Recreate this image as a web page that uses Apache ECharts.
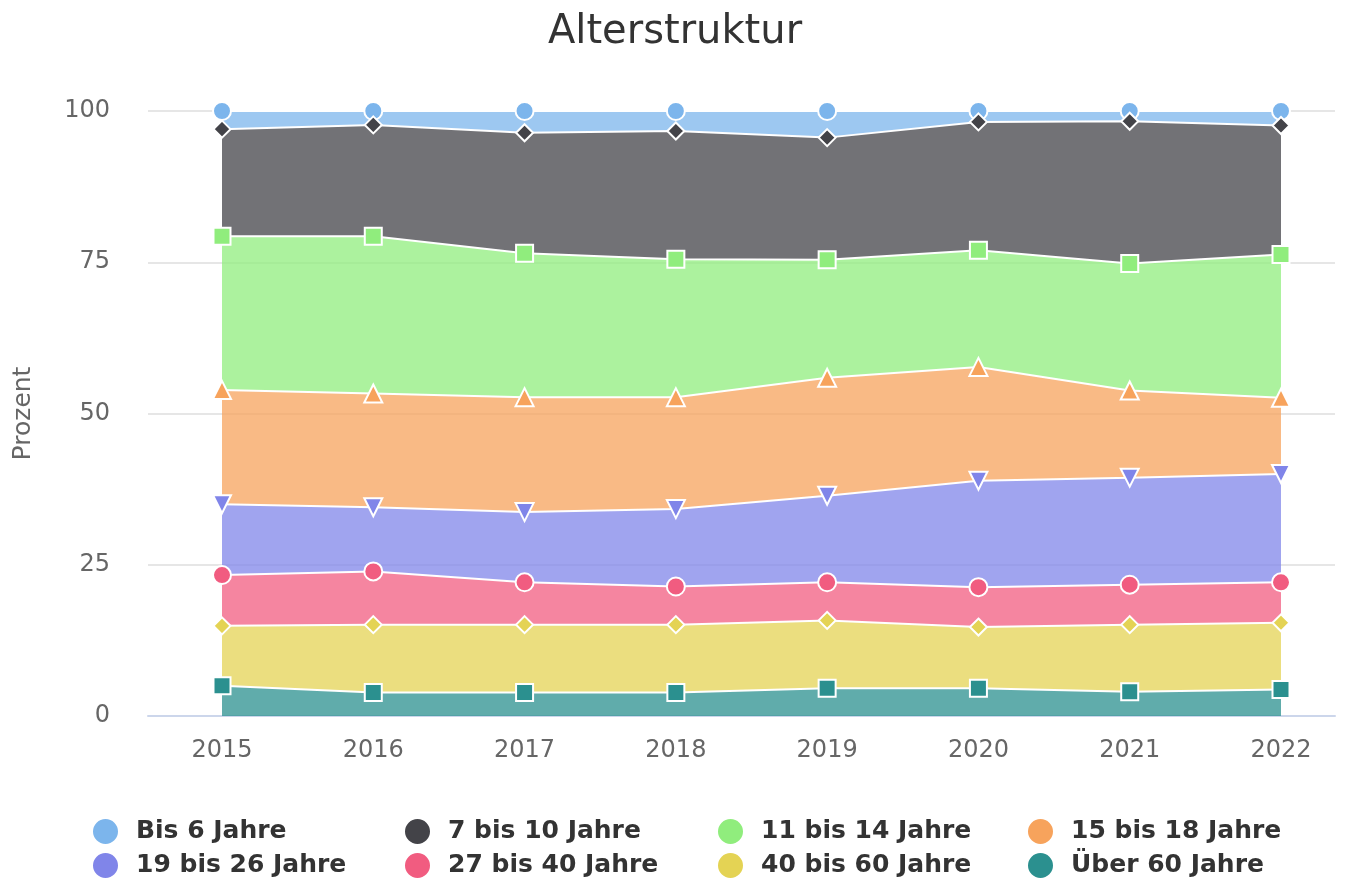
<!DOCTYPE html>
<html>
<head>
<meta charset="utf-8">
<title>Alterstruktur</title>
<script src="https://cdn.jsdelivr.net/npm/echarts@6/dist/echarts.min.js"></script>
<style>
  html, body { margin: 0; padding: 0; background: #fff; }
  #chart { width: 1350px; height: 878px; }
</style>
</head>
<body>
<div id="chart"></div>
<script>
// Jahre (x-Achse)
const years = ['2015', '2016', '2017', '2018', '2019', '2020', '2021', '2022']
const yTicks = [0, 25, 50, 75, 100]

// Anteile in Prozent je Altersgruppe
const bis6 = [3.0, 2.3, 3.6, 3.3, 4.4, 1.8, 1.7, 2.4]
const j7bis10 = [17.7, 18.4, 19.9, 21.2, 20.2, 21.2, 23.5, 21.3]
const j11bis14 = [25.4, 26.0, 23.8, 22.8, 19.5, 19.3, 21.0, 23.7]
const j15bis18 = [18.9, 18.8, 19.0, 18.5, 19.5, 18.8, 14.4, 12.6]
const j19bis26 = [11.7, 10.6, 11.6, 12.8, 14.3, 17.6, 17.7, 17.9]
const j27bis40 = [8.4, 8.8, 7.0, 6.3, 6.3, 6.6, 6.6, 6.7]
const j40bis60 = [9.9, 11.2, 11.2, 11.2, 11.2, 10.1, 11.1, 11.0]
const ueber60 = [5.0, 3.9, 3.9, 3.9, 4.6, 4.6, 4.0, 4.4]

// Reihenfolge von unten nach oben (Stapel)
const groups = [
  { name: 'Über 60 Jahre', data: ueber60, color: '#2b908f', symbol: 'rect', size: 17 },
  { name: '40 bis 60 Jahre', data: j40bis60, color: '#e4d354', symbol: 'diamond', size: 17 },
  { name: '27 bis 40 Jahre', data: j27bis40, color: '#f15c80', symbol: 'circle', size: 18 },
  { name: '19 bis 26 Jahre', data: j19bis26, color: '#8085e9', symbol: 'triangle', size: 18, rotate: 180 },
  { name: '15 bis 18 Jahre', data: j15bis18, color: '#f7a35c', symbol: 'triangle', size: 18 },
  { name: '11 bis 14 Jahre', data: j11bis14, color: '#90ed7d', symbol: 'rect', size: 17 },
  { name: '7 bis 10 Jahre', data: j7bis10, color: '#434348', symbol: 'diamond', size: 17 },
  { name: 'Bis 6 Jahre', data: bis6, color: '#7cb5ec', symbol: 'circle', size: 18 }
]

// Legende: 4 Spalten x 2 Zeilen
const legendRows = [
  ['Bis 6 Jahre', '7 bis 10 Jahre', '11 bis 14 Jahre', '15 bis 18 Jahre'],
  ['19 bis 26 Jahre', '27 bis 40 Jahre', '40 bis 60 Jahre', 'Über 60 Jahre']
]
const legendLeft = [86, 398, 711, 1021]
const legendTop = [812, 846]

const chart = echarts.init(document.getElementById('chart'))

const series = groups.map((g, i) => ({
  name: g.name,
  type: 'line',
  xAxisIndex: 1,
  yAxisIndex: 1,
  stack: 'total',
  data: g.data,
  z: 20 - i,
  color: g.color,
  symbol: g.symbol,
  symbolSize: g.size,
  symbolRotate: g.rotate || 0,
  showAllSymbol: true,
  lineStyle: { color: '#ffffff', width: 2 },
  itemStyle: { color: g.color, borderColor: '#ffffff', borderWidth: 2 },
  areaStyle: { color: g.color, opacity: 0.75 },
  emphasis: { disabled: true }
}))

const legends = []
legendRows.forEach((row, r) => {
  row.forEach((name, c) => {
    legends.push({
      left: legendLeft[c],
      top: legendTop[r],
      itemWidth: 27,
      itemHeight: 29,
      icon: 'circle',
      data: [name],
      selectedMode: false,
      textStyle: { fontSize: 25, fontWeight: 'bold', color: '#333333', fontFamily: 'DejaVu Sans', padding: [0, 0, 0, 12] }
    })
  })
})

chart.setOption({
  animation: false,
  textStyle: { fontFamily: 'DejaVu Sans' },
  title: {
    text: 'Alterstruktur',
    left: 'center',
    top: 8,
    textStyle: { fontSize: 40, fontWeight: 'normal', color: '#333333', fontFamily: 'DejaVu Sans' }
  },
  legend: legends,
  grid: [
    { left: 148, right: 15, top: 111, bottom: 162 },
    { left: 222, right: 69, top: 111, bottom: 162 }
  ],
  xAxis: [
    {
      gridIndex: 0,
      type: 'value',
      min: 0,
      max: 1,
      axisLine: { show: true, lineStyle: { color: '#ccd6eb', width: 2 } },
      axisTick: { show: false },
      axisLabel: { show: false },
      splitLine: { show: false }
    },
    {
      gridIndex: 1,
      type: 'category',
      data: years,
      boundaryGap: false,
      axisLine: { show: false },
      axisTick: { show: false },
      axisLabel: { fontSize: 24, color: '#666666', margin: 23 },
      splitLine: { show: false }
    }
  ],
  yAxis: [
    {
      gridIndex: 0,
      type: 'value',
      min: yTicks[0],
      max: yTicks[yTicks.length - 1],
      interval: 25,
      name: 'Prozent',
      nameLocation: 'middle',
      nameGap: 112,
      nameTextStyle: { fontSize: 25, color: '#666666' },
      axisLine: { show: false },
      axisTick: { show: false },
      axisLabel: { fontSize: 24, color: '#666666', margin: 38 },
      splitLine: { lineStyle: { color: '#e6e6e6', width: 2 } }
    },
    {
      gridIndex: 1,
      type: 'value',
      min: 0,
      max: 100,
      interval: 25,
      show: false,
      splitLine: { show: false }
    }
  ],
  series: series
})

window.addEventListener('resize', () => chart.resize())
</script>
</body>
</html>
